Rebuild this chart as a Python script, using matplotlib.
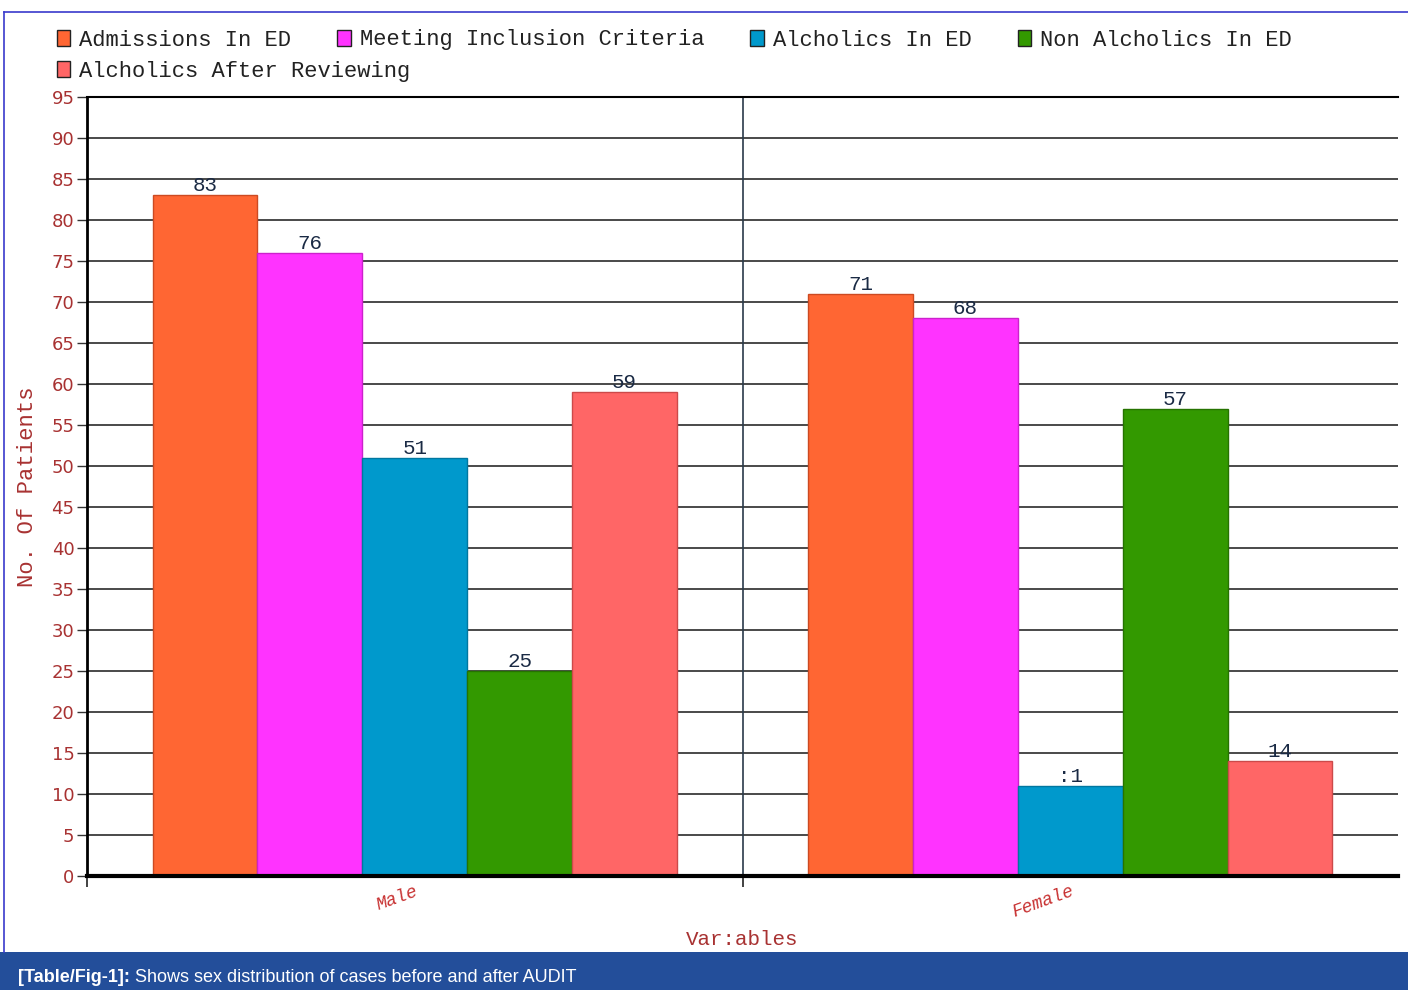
import matplotlib
matplotlib.use("Agg")
import matplotlib.pyplot as plt
from matplotlib.patches import Rectangle
from matplotlib.lines import Line2D
import numpy as np

categories = ["Male", "Female"]
series_names = ["Admissions In ED", "Meeting Inclusion Criteria", "Alcholics In ED",
                "Non Alcholics In ED", "Alcholics After Reviewing"]
values = {
    "Admissions In ED": [83, 71],
    "Meeting Inclusion Criteria": [76, 68],
    "Alcholics In ED": [51, 11],
    "Non Alcholics In ED": [25, 57],
    "Alcholics After Reviewing": [59, 14],
}
value_labels = {
    "Admissions In ED": ["83", "71"],
    "Meeting Inclusion Criteria": ["76", "68"],
    "Alcholics In ED": ["51", ":1"],
    "Non Alcholics In ED": ["25", "57"],
    "Alcholics After Reviewing": ["59", "14"],
}
colors = ["#FF6633", "#FF33FF", "#0099CC", "#339900", "#FF6666"]
edges = ["#CC4A22", "#CC22CC", "#0077A0", "#267300", "#CC4A4A"]
y_ticks = list(range(0, 96, 5))
x_label = "Var:ables"
y_label = "No. Of Patients"
caption_bold = "[Table/Fig-1]:"
caption_rest = " Shows sex distribution of cases before and after AUDIT"

W, H = 1408, 990
fig = plt.figure(figsize=(W / 100, H / 100), dpi=100)
fig.patch.set_facecolor("white")

mono = ["Liberation Mono", "DejaVu Sans Mono"]
red = "#A83232"

ax = fig.add_axes([87 / W, 1 - 876 / H, (1398 - 87) / W, (876 - 97) / H])
ax.set_xlim(0, 2)
ax.set_ylim(0, 95)

bw = 0.16
centers = np.arange(len(categories)) + 0.5
for i, name in enumerate(series_names):
    xs = centers + (i - 2) * bw
    bars = ax.bar(xs, values[name], width=bw, color=colors[i], edgecolor=edges[i],
                  linewidth=1, zorder=3)
    for b, lab in zip(bars, value_labels[name]):
        ax.annotate(lab, (b.get_x() + b.get_width() / 2, b.get_height()),
                    xytext=(0, 0), textcoords="offset points", ha="center", va="bottom",
                    fontsize=15, family=mono, color="#1a2a44", zorder=4)

ax.set_yticks(y_ticks)
ax.set_yticklabels([str(t) for t in y_ticks], color=red, fontsize=13, family="DejaVu Sans")
ax.yaxis.grid(True, color="#2a2a2a", linewidth=1.2, zorder=1)
ax.tick_params(axis="y", length=7, width=1, color="#333333", pad=2)

ax.set_xticks(centers)
ax.set_xticklabels(categories, rotation=20, ha="right", rotation_mode="anchor",
                   color="#C83232", fontsize=13, family=mono, fontstyle="italic")
ax.tick_params(axis="x", which="major", length=0, pad=5)
ax.set_xticks([0, 1], minor=True)
ax.tick_params(axis="x", which="minor", length=8, width=1.2, color="#222222")
ax.axvline(1, color="#2a3a4a", linewidth=1.2, zorder=2)

ax.spines["left"].set_linewidth(2)
ax.spines["bottom"].set_linewidth(3)
ax.spines["top"].set_linewidth(1.5)
ax.spines["right"].set_visible(False)
for s in ax.spines.values():
    s.set_zorder(5)

ax.set_xlabel(x_label, color=red, fontsize=15, family=mono)
ax.xaxis.set_label_coords(0.5, (876 - 930) / (876 - 97))
ax.set_ylabel(y_label, color=red, fontsize=16, family=mono, labelpad=10)

# Legend (two rows, flowing)
def handles_for(idx):
    return [Rectangle((0, 0), 1, 1, facecolor=colors[i], edgecolor="#222222", linewidth=1)
            for i in idx]

leg_kw = dict(frameon=False, prop={"family": mono, "size": 15.9}, handlelength=0.6,
              handleheight=0.75, handletextpad=0.4, columnspacing=2.1, borderaxespad=0,
              borderpad=0)
leg1 = fig.legend(handles_for([0, 1, 2, 3]), series_names[:4], ncol=4, loc="center left",
                  bbox_to_anchor=(57 / W, 1 - 40 / H), **leg_kw)
leg2 = fig.legend(handles_for([4]), series_names[4:], ncol=1, loc="center left",
                  bbox_to_anchor=(57 / W, 1 - 71 / H), **leg_kw)
for leg in (leg1, leg2):
    for t in leg.get_texts():
        t.set_color("#222222")

# Border frame
fig.add_artist(Line2D([4 / W, 4 / W], [1 - 952 / H, 1 - 12 / H], color="#3a3acc",
                      linewidth=1.2, transform=fig.transFigure))
fig.add_artist(Line2D([4 / W, 1], [1 - 12 / H, 1 - 12 / H], color="#3a3acc",
                      linewidth=1.2, transform=fig.transFigure))

# Caption band
fig.add_artist(Rectangle((0, 0), 1, (990 - 952) / H, transform=fig.transFigure,
                         facecolor="#234E9A", edgecolor="none"))
cap_fam = ["Liberation Sans Narrow", "Liberation Sans"]
t1 = fig.text(18 / W, 1 - 977 / H, caption_bold, color="white", fontsize=13,
              fontweight="bold", family=cap_fam, va="center", ha="left")
fig.canvas.draw()
bb = t1.get_window_extent()
fig.text(bb.x1 / W, 1 - 977 / H, caption_rest, color="white", fontsize=13,
         family=cap_fam, va="center", ha="left")

fig.savefig("out.png", dpi=100)
